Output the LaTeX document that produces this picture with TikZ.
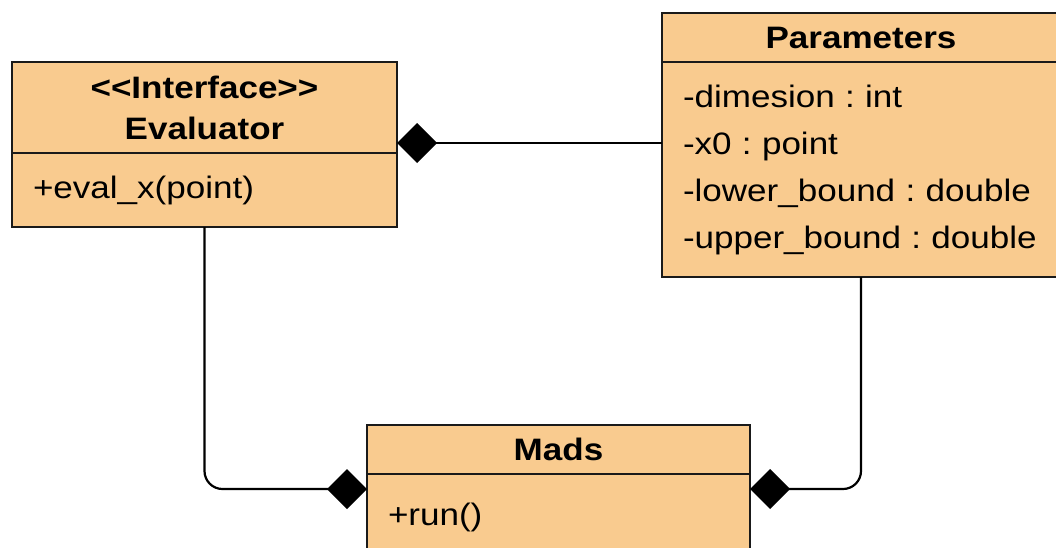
\documentclass[tikz,border=0pt]{standalone}
\usepackage{fontspec}
\setmainfont{Liberation Sans}[FakeStretch=1.13]
\usetikzlibrary{arrows.meta}
\definecolor{umlfill}{HTML}{F9CB8F}
\definecolor{umlline}{HTML}{1A1A1A}
\frenchspacing
\hyphenpenalty=10000
\exhyphenpenalty=10000
\begin{document}
\begin{tikzpicture}[x=1pt,y=1pt,
  box/.style={draw=umlline, fill=umlfill, line width=2pt, inner sep=0pt, outer sep=0pt, anchor=north west},
  title/.style={box, font=\fontsize{31}{41}\selectfont\bfseries, align=center},
  attrs/.style={box, font=\fontsize{31}{47}\selectfont, align=left, inner xsep=21pt},
  comp/.style={draw=black, line width=2.2pt, rounded corners=18pt, -{Diamond[length=40pt,width=40pt,fill=black]}}]
\useasboundingbox (0,0) rectangle (1056,-547);
% Evaluator
\node[title, minimum width=385pt, minimum height=91pt] (evalH) at (12,-62) {<{}<Interface>{}>\\Evaluator};
\node[attrs, minimum width=385pt, minimum height=74pt, text width=343pt] (evalB) at (evalH.south west) {+eval\_x(point)};
% Parameters
\node[title, minimum width=398pt, minimum height=49pt] (paramsH) at (662,-13) {Parameters};
\node[attrs, minimum width=398pt, minimum height=215pt, text width=356pt] (paramsB) at (paramsH.south west) {-dimesion : int\\-x0 : point\\-lower\_bound : double\\-upper\_bound : double};
% Mads
\node[title, minimum width=383pt, minimum height=49pt] (madsH) at (367,-425) {Mads};
\node[attrs, minimum width=383pt, minimum height=86pt, text width=341pt] (madsB) at (madsH.south west) {+run()};
% connectors
\draw[comp] (paramsB.west |- 0,-143) -- (evalH.east |- 0,-143);
\draw[comp] (evalB.south) |- (madsB.west |- 0,-489);
\draw[comp] (paramsB.south) |- (madsB.east |- 0,-489);
\end{tikzpicture}
\end{document}
